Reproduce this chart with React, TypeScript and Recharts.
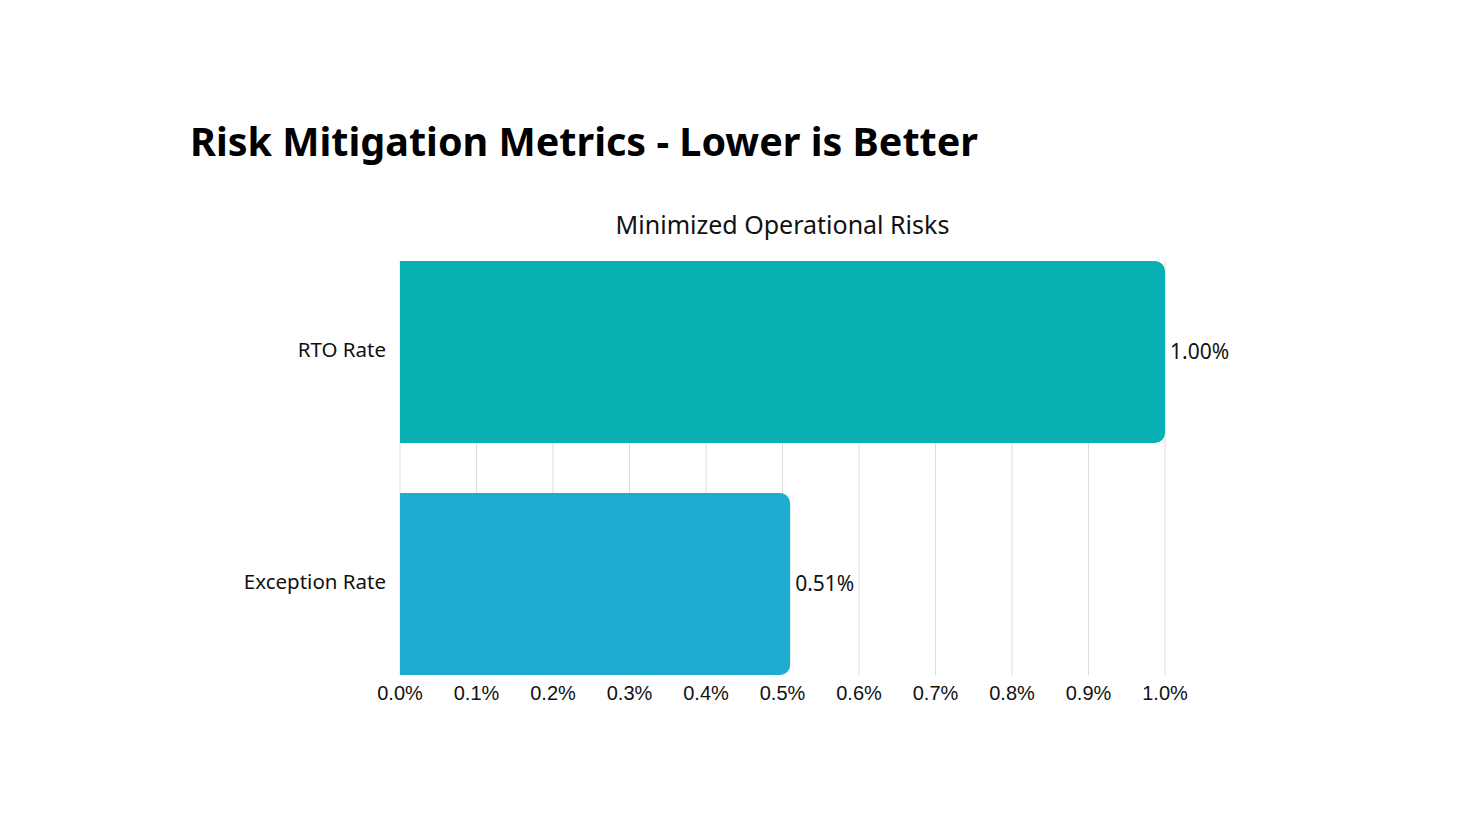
import React from 'react';
import { BarChart, Bar, XAxis, YAxis, CartesianGrid, Cell, LabelList } from 'recharts';

const categories = ['RTO Rate', 'Exception Rate'];
const rates = [1.0, 0.51];
const barColors = ['#07B0B2', '#1FACD1'];
const xTicks = [0, 0.1, 0.2, 0.3, 0.4, 0.5, 0.6, 0.7, 0.8, 0.9, 1.0];

const data = categories.map((name, i) => ({ name, rate: rates[i] }));

const W = 1475;
const H = 835;

const App: React.FC = () => {
  return (
    <div style={{ position: 'relative', width: W, height: H, margin: -8, background: '#fff' }}>
      <svg width={W} height={H} style={{ position: 'absolute', left: 0, top: 0 }}>
        <text x={190} y={156} fontFamily="Noto Sans" fontWeight={700} fontSize={39.5} fill="#000">
          Risk Mitigation Metrics - Lower is Better
        </text>
        <text x={782.5} y={234} textAnchor="middle" fontFamily="Noto Sans" fontSize={25} fill="#111">
          Minimized Operational Risks
        </text>
      </svg>
      <div style={{ position: 'absolute', left: 0, top: 0 }}>
        <BarChart
          width={W}
          height={H}
          data={data}
          layout="vertical"
          margin={{ top: 261, right: 310, bottom: 130, left: 250 }}
          barCategoryGap={25}
        >
          <CartesianGrid horizontal={false} stroke="#dcdcdc" />
          <XAxis
            type="number"
            domain={[0, 1]}
            ticks={xTicks}
            tickFormatter={(v: number) => `${v.toFixed(1)}%`}
            axisLine={false}
            tickLine={false}
            height={30}
            tickMargin={5}
            tick={{ fontFamily: 'Liberation Sans', fontSize: 20, fill: '#111' }}
            interval={0}
          />
          <YAxis
            type="category"
            dataKey="name"
            width={150}
            axisLine={false}
            tickLine={false}
            tickMargin={8}
            padding={{ top: -25, bottom: -25 }}
            tick={{ fontFamily: 'Noto Sans', fontSize: 20.5, fill: '#111', dy: -2 }}
          />
          <Bar dataKey="rate" radius={[0, 10, 10, 0]} isAnimationActive={false}>
            {data.map((d, i) => (
              <Cell key={d.name} fill={barColors[i]} />
            ))}
            <LabelList
              dataKey="rate"
              position="right"
              offset={5}
              formatter={(v: any) => `${Number(v).toFixed(2)}%`}
              style={{ fontFamily: 'Noto Sans', fontSize: 21, fill: '#111' }}
            />
          </Bar>
        </BarChart>
      </div>
    </div>
  );
};

export default App;
